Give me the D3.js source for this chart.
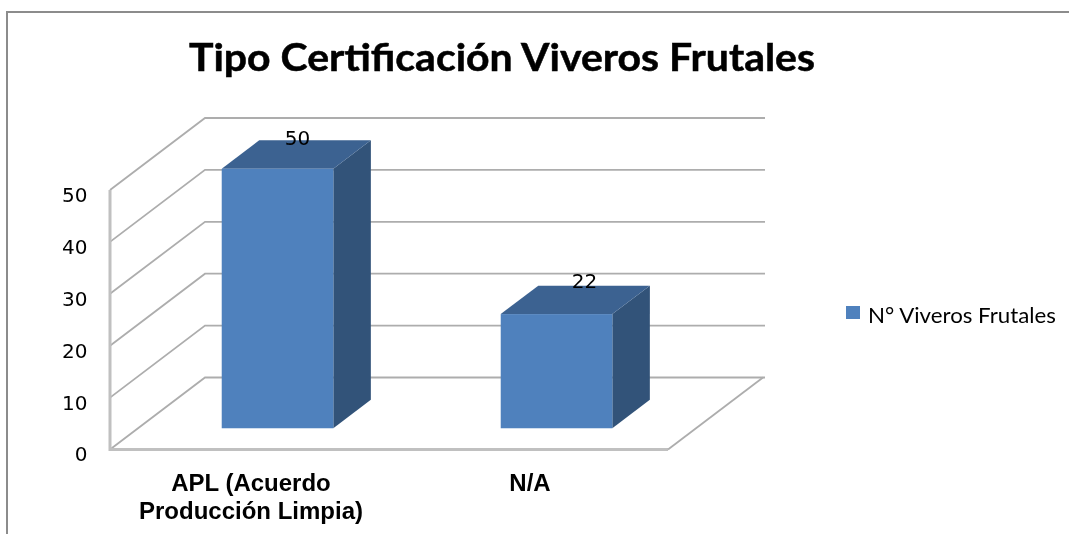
<!DOCTYPE html>
<html lang="es">

<head>
  <meta charset="UTF-8" />
  <title>Tipo Certificación Viveros Frutales</title>
  <script src="https://d3js.org/d3.v7.min.js"></script>
  <style>
    body {
      margin: 0;
      background-color: #fff;
    }

    svg {
      display: block;
      /* la referencia es una imagen reescalada, algo borrosa */
      filter: blur(0.45px);
    }

    .title {
      font-family: Lato, sans-serif;
      font-size: 38px;
      font-weight: 700;
      stroke: #000;
      stroke-width: 0.5px;
    }

    .tick text {
      font-family: "DejaVu Sans", sans-serif;
      font-size: 20px;
      fill: #000;
    }

    .value {
      font-family: "DejaVu Sans", sans-serif;
      font-size: 20px;
    }

    .category {
      font-family: "Liberation Sans", sans-serif;
      font-size: 24px;
      font-weight: 700;
    }

    .legend-label {
      font-family: Lato, sans-serif;
      font-size: 21px;
    }
  </style>
</head>

<body>
  <script>
    const categories = [["APL (Acuerdo", "Producción Limpia)"], ["N/A"]];
    const categoryKeys = ["APL", "N/A"];
    const values = [50, 22];
    const yTicks = [0, 10, 20, 30, 40, 50];
    const seriesName = "N° Viveros Frutales";
    const chartTitle = "Tipo Certificación Viveros Frutales";

    const width = 1069;
    const height = 534;

    // profundidad de la caja 3D
    const depthX = 95;
    const depthY = -72;
    const backRight = 765;
    const barDepthStart = 0.295;
    const barDepthEnd = 0.69;
    const labelShift = [[20, 5], [28, 2]];

    const x = d3.scaleBand()
      .domain(categoryKeys)
      .range([110, 668])
      .paddingInner(0.6)
      .paddingOuter(0.3);
    const y = d3.scaleLinear().domain([0, 50]).range([449.5, 190]);

    const svg = d3.select("body")
      .append("svg")
      .attr("width", width)
      .attr("height", height);

    // marco
    svg.append("path")
      .attr("d", d3.line()([[7, height + 2], [7, 12], [width + 2, 12]]))
      .attr("fill", "none")
      .attr("stroke", "#8c8c8c")
      .attr("stroke-width", 2);

    svg.append("text")
      .attr("class", "title")
      .attr("x", 189)
      .attr("y", 70.5)
      .attr("textLength", 626)
      .attr("lengthAdjust", "spacingAndGlyphs")
      .text(chartTitle);

    // rejilla
    const line = d3.line();
    svg.append("g")
      .selectAll("path")
      .data(yTicks)
      .join("path")
      .attr("d", (d) => line([
        [x.range()[0], y(d)],
        [x.range()[0] + depthX, y(d) + depthY],
        [backRight, y(d) + depthY],
      ]))
      .attr("fill", "none")
      .attr("stroke", "#adadad")
      .attr("stroke-width", 1.8);

    // piso y pared
    svg.append("path")
      .attr("d", line([
        [x.range()[0], y(50)],
        [x.range()[0], y(0)],
        [x.range()[1], y(0)],
      ]))
      .attr("fill", "none")
      .attr("stroke", "#c0c0c0")
      .attr("stroke-width", 3);

    svg.append("path")
      .attr("d", line([
        [x.range()[1], y(0)],
        [x.range()[1] + depthX, y(0) + depthY],
      ]))
      .attr("fill", "none")
      .attr("stroke", "#adadad")
      .attr("stroke-width", 1.8);

    // eje Y
    svg.append("g")
      .attr("transform", "translate(87.5,5)")
      .call(d3.axisLeft(y).tickValues(yTicks).tickSize(0).tickPadding(0))
      .call((g) => g.select(".domain").remove());

    // barras
    const bars = svg.append("g")
      .selectAll("g")
      .data(values.map((v, i) => ({ key: categoryKeys[i], value: v, shift: labelShift[i] })))
      .join("g");

    const px = (d, f) => x(d.key) + depthX * f;
    const py = (v, f) => y(v) + depthY * f;
    const bw = x.bandwidth();

    bars.append("path")
      .attr("fill", "#325379")
      .attr("d", (d) => line([
        [px(d, barDepthStart) + bw, py(0, barDepthStart)],
        [px(d, barDepthEnd) + bw, py(0, barDepthEnd)],
        [px(d, barDepthEnd) + bw, py(d.value, barDepthEnd)],
        [px(d, barDepthStart) + bw, py(d.value, barDepthStart)],
      ]) + "Z");

    bars.append("path")
      .attr("fill", "#3c6291")
      .attr("d", (d) => line([
        [px(d, barDepthStart), py(d.value, barDepthStart)],
        [px(d, barDepthEnd), py(d.value, barDepthEnd)],
        [px(d, barDepthEnd) + bw, py(d.value, barDepthEnd)],
        [px(d, barDepthStart) + bw, py(d.value, barDepthStart)],
      ]) + "Z");

    bars.append("rect")
      .attr("fill", "#4f81bd")
      .attr("x", (d) => px(d, barDepthStart))
      .attr("y", (d) => py(d.value, barDepthStart))
      .attr("width", bw)
      .attr("height", (d) => y(0) - y(d.value));

    bars.append("text")
      .attr("class", "value")
      .attr("text-anchor", "middle")
      .attr("x", (d) => px(d, barDepthStart) + bw / 2 + d.shift[0])
      .attr("y", (d) => py(d.value, barDepthEnd) + d.shift[1])
      .text((d) => d.value);

    // categorías
    svg.append("g")
      .selectAll("text")
      .data(categories)
      .join("text")
      .attr("class", "category")
      .attr("text-anchor", "middle")
      .attr("y", 491)
      .selectAll("tspan")
      .data((d, i) => d.map((t) => ({ t, key: categoryKeys[i] })))
      .join("tspan")
      .attr("x", (d) => x(d.key) + bw / 2 + 1.5)
      .attr("dy", (d, i) => (i ? 28 : 0))
      .text((d) => d.t);

    // leyenda
    svg.append("rect")
      .attr("x", 846)
      .attr("y", 306)
      .attr("width", 14)
      .attr("height", 13)
      .attr("fill", "#4f81bd");

    svg.append("text")
      .attr("class", "legend-label")
      .attr("x", 868)
      .attr("y", 323)
      .attr("textLength", 188)
      .attr("lengthAdjust", "spacingAndGlyphs")
      .text(seriesName);
  </script>
</body>

</html>
